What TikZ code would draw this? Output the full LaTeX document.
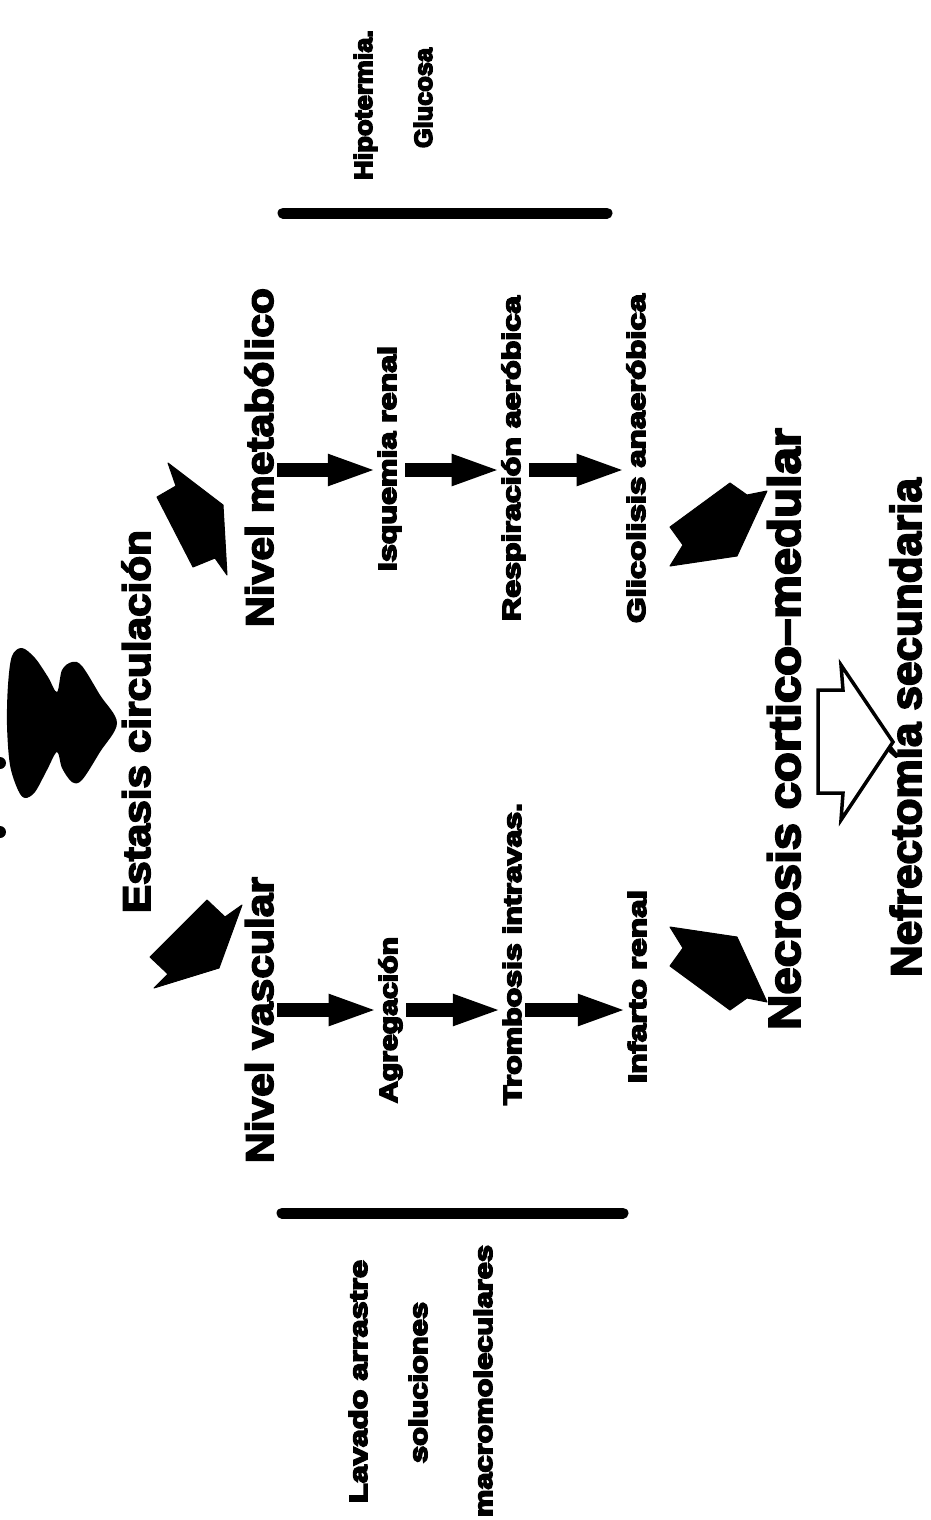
\documentclass[tikz,border=0pt]{standalone}
\usepackage{fontspec}
\usepackage{graphicx}
\usetikzlibrary{arrows.meta}
\newfontfamily\hv{Liberation Sans Bold}[FakeBold=4]
\newfontfamily\hvsmall{Liberation Sans Bold}[FakeBold=6]
% text set at a given size and stretched to a given length along the line
\newcommand{\fitw}[3]{\resizebox{#1pt}{\height}{\hv\fontsize{#2}{#2}\selectfont #3}}
\newcommand{\fitn}[3]{\resizebox{#1pt}{\height}{\hvsmall\fontsize{#2}{#2}\selectfont #3}}

\begin{document}
\begin{tikzpicture}[x=1pt,y=-1pt,
  lbl/.style={inner sep=0pt, outer sep=0pt, rotate=90, anchor=base west},
  flow/.style={line width=14pt, -{Triangle[length=50pt,width=28pt]}, shorten <=4pt},
  blot/.style={fill=black, draw=black, line width=1pt, line join=round},
  rule/.style={line width=11pt, line cap=round},
  hollow/.style={draw=black, fill=white, line width=3.5pt, line join=miter}]

\fill[white] (0,0) rectangle (930,1520);
\useasboundingbox (0,0) rectangle (930,1520);

% remains of the heading, cut at the left edge
\fill (0,763) circle (6pt);
\fill (0,832) circle (6pt);

% large blot arrow at the head of the page
\fill plot[smooth cycle, tension=0.55] coordinates {
  (57,692) (48,677) (35,658) (22,648) (12,656) (8,685) (7,725) (10,765)
  (18,790) (25,798) (35,792) (47,770) (57,752) (62,768) (72,782) (82,780)
  (100,752) (117,723) (100,695) (82,666) (72,662) (62,670)};

% main labels
\node[lbl] (est) at (150,913) {\fitw{383}{38.5}{Estasis circulación}};
\node[lbl] (nm)  at (273,627) {\fitw{339}{38.5}{Nivel metabólico}};
\node[lbl] (nv)  at (273,1163) {\fitw{286}{38.5}{Nivel vascular}};
\node[lbl] (nec) at (800,1030) {\fitw{602}{45}{Necrosis cortico–medular}};
\node[lbl] (nef) at (921,977) {\fitw{499}{43}{Nefrectomía secundaria}};

% metabolic chain
\node[lbl] (isq)  at (396,571) {\fitn{225}{25}{Isquemia renal}};
\node[lbl] (resp) at (520,621) {\fitn{325}{25}{Respiración aeróbica}};
\node[lbl] (gli)  at (645,623) {\fitn{329}{25}{Glicolisis anaeróbica}};

% vascular chain
\node[lbl] (agr)  at (397,1103) {\fitn{166}{25}{Agregación}};
\node[lbl] (trom) at (521,1105) {\fitn{302}{25}{Trombosis intravas.}};
\node[lbl] (inf)  at (646,1083) {\fitn{193}{25}{Infarto renal}};

% side notes
\node[lbl] (hip) at (372,180) {\fitn{150}{25}{Hipotermia.}};
\node[lbl] (glu) at (432,148) {\fitn{100}{25}{Glucosa}};
\node[lbl] (lav) at (367,1503) {\fitn{243}{25}{Lavado arrastre}};
\node[lbl] (sol) at (427,1463) {\fitn{161}{25}{soluciones}};
\node[lbl] (mac) at (492,1517) {\fitn{272}{25}{macromoleculares}};

% rules
\draw[rule] (283,213) -- (607,213);
\draw[rule] (282,1213) -- (623,1213);

% chain arrows
\coordinate (rowM) at (0,470);
\coordinate (rowV) at (0,1010);
\draw[flow] (nm.south |- rowM) -- (isq.north |- rowM);
\draw[flow] (isq.south |- rowM) -- (resp.north |- rowM);
\draw[flow] (resp.south |- rowM) -- (gli.north |- rowM);
\draw[flow] (nv.south |- rowV) -- (agr.north |- rowV);
\draw[flow] (agr.south |- rowV) -- (trom.north |- rowV);
\draw[flow] (trom.south |- rowV) -- (inf.north |- rowV);

% broad arrows
\filldraw[blot] (168,463) -- (223,505) -- (227,575) -- (215,558) -- (193,567) -- (157,497) -- (176,486) -- cycle;
\filldraw[blot] (207,900) -- (225,917) -- (242,905) -- (219,968) -- (154,988) -- (168,974) -- (150,957) -- cycle;
\filldraw[blot] (730,483) -- (747,495) -- (767,491) -- (737,556) -- (670,566) -- (683,545) -- (670,527) -- cycle;
\filldraw[blot] (730,1010) -- (747,998) -- (767,1002) -- (737,937) -- (670,927) -- (683,948) -- (670,966) -- cycle;

% hollow arrow
\draw[hollow] (818,690) -- (843,690) -- (841,665) -- (893,742) -- (841,820) -- (843,793) -- (818,793) -- cycle;

\end{tikzpicture}
\end{document}
